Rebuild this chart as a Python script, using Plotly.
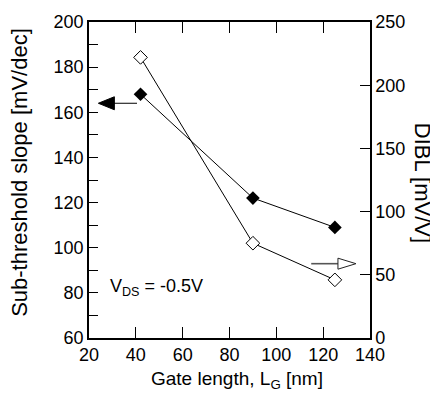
import plotly.graph_objects as go

# Gate length sweep
gate_length_nm = [42, 90, 125]
# Sub-threshold slope (left axis) and DIBL (right axis)
ss_mv_dec = [168, 122, 109]
dibl_mv_v = [222, 75, 46]

x_ticks = [20, 40, 60, 80, 100, 120, 140]
ss_ticks = [60, 80, 100, 120, 140, 160, 180, 200]
dibl_ticks = [0, 50, 100, 150, 200, 250]

FONT = "Liberation Sans, Arial, sans-serif"

fig = go.Figure()

fig.add_trace(go.Scatter(
    x=gate_length_nm, y=ss_mv_dec, mode="lines+markers",
    line=dict(color="black", width=1),
    marker=dict(symbol="diamond", size=10.5, color="black"),
    showlegend=False,
))
fig.add_trace(go.Scatter(
    x=gate_length_nm, y=dibl_mv_v, mode="lines+markers", yaxis="y2",
    line=dict(color="black", width=1),
    marker=dict(symbol="diamond", size=10.5, color="white",
                line=dict(color="black", width=1)),
    showlegend=False,
))

shapes = [
    # arrow pointing to the left axis (sub-threshold slope)
    dict(type="line", xref="x", yref="y", x0=27, x1=40.5, y0=164, y1=164,
         line=dict(color="black", width=1)),
    dict(type="path", xref="x", yref="y", xsizemode="pixel", ysizemode="pixel",
         xanchor=24, yanchor=164, path="M0,0 L16,6.5 L16,-6.5 Z",
         fillcolor="black", line=dict(color="black", width=1)),
    # arrow pointing to the right axis (DIBL)
    dict(type="line", xref="x", yref="y2", x0=114.9, x1=127, y0=58.8, y1=58.8,
         line=dict(color="#555555", width=1.6)),
    dict(type="path", xref="x", yref="y2", xsizemode="pixel", ysizemode="pixel",
         xanchor=134, yanchor=58.8, path="M0,0 L-18,5.5 L-18,-5.5 Z",
         fillcolor="white", line=dict(color="#222222", width=1)),
]

annotations = [
    dict(text="Sub-threshold slope [mV/dec]", xref="paper", yref="paper",
         x=-0.25, y=0.525, textangle=-90, showarrow=False,
         xanchor="center", yanchor="middle",
         font=dict(family=FONT, size=22, color="black")),
    dict(text="DIBL [mV/V]", xref="paper", yref="paper",
         x=1.185, y=0.491, textangle=90, showarrow=False,
         xanchor="center", yanchor="middle",
         font=dict(family=FONT, size=22, color="black")),
    dict(text="Gate length, L<sub>G</sub> [nm]", xref="paper", yref="paper",
         x=0.527, y=-0.1335, showarrow=False,
         xanchor="center", yanchor="middle",
         font=dict(family=FONT, size=19, color="black")),
    dict(text="V<sub>DS</sub> = -0.5V", xref="x", yref="y",
         x=28.1, y=82.2, showarrow=False, xanchor="left", yanchor="middle",
         font=dict(family=FONT, size=18, color="black")),
]

fig.update_layout(
    width=430, height=398,
    margin=dict(l=89, r=60, t=16, b=60),
    paper_bgcolor="white", plot_bgcolor="white",
    font=dict(family=FONT, size=18, color="black"),
    xaxis=dict(
        range=[20, 140], tickvals=x_ticks, ticktext=[str(v) for v in x_ticks],
        ticks="inside", ticklen=11, tickcolor="black", tickwidth=1,
        showline=True, linecolor="black", linewidth=1.5, mirror="ticks",
        showgrid=False, zeroline=False,
    ),
    yaxis=dict(
        range=[60, 200], tickvals=ss_ticks, ticktext=[str(v) for v in ss_ticks],
        ticks="inside", ticklen=9, tickcolor="black", tickwidth=1,
        minor=dict(dtick=10, ticks="inside", ticklen=9, tickcolor="black"),
        showline=True, linecolor="black", linewidth=1.5,
        showgrid=False, zeroline=False,
    ),
    yaxis2=dict(
        range=[0, 250], tickvals=dibl_ticks, ticktext=[str(v) for v in dibl_ticks],
        overlaying="y", side="right",
        ticks="inside", ticklen=10, tickcolor="black", tickwidth=1,
        showline=True, linecolor="black", linewidth=1.5,
        showgrid=False, zeroline=False,
    ),
    shapes=shapes,
    annotations=annotations,
)

fig.write_html("out.html")
